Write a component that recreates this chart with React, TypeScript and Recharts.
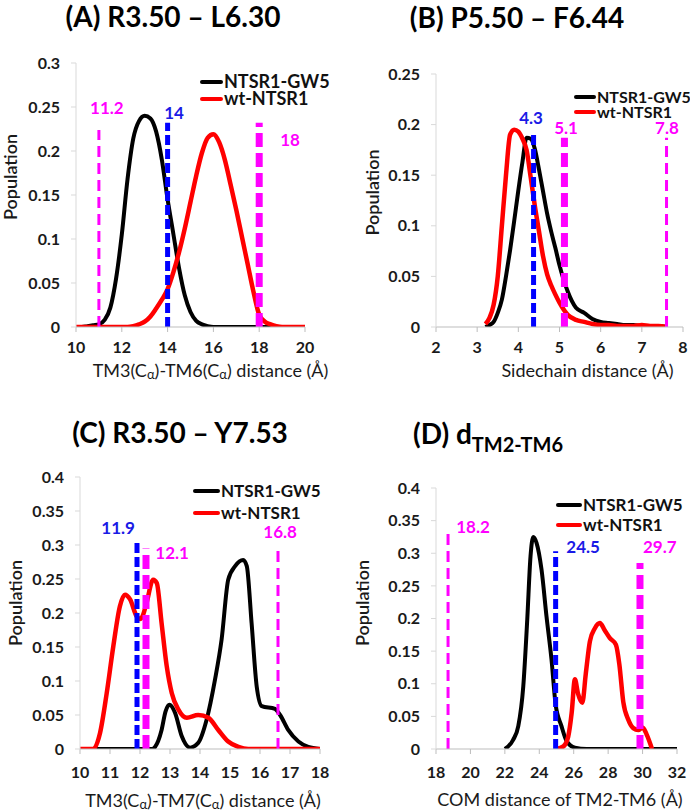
import React from "react";
import { LineChart, Line, XAxis, YAxis, ReferenceLine, ReferenceDot, Legend } from "recharts";

const FONT = "Lato, 'Open Sans', sans-serif";
const BLACK = "#000000";
const RED = "#ff0000";
const MAGENTA = "#ff00ff";
const BLUE = "#0000ff";

// ---------- (A) R3.50 - L6.30 ----------
const aXTicks = [10, 12, 14, 16, 18, 20];
const aYTicks = [0, 0.05, 0.1, 0.15, 0.2, 0.25, 0.3];
const aDist = [
  10, 10.25, 10.5, 10.75, 11, 11.25, 11.5, 11.75, 12, 12.25, 12.5, 12.75, 13, 13.25, 13.5, 13.75, 14,
  14.25, 14.5, 14.75, 15, 15.25, 15.5, 15.75, 16, 16.25, 16.5, 16.75, 17, 17.25, 17.5, 17.75, 18,
  18.25, 18.5, 18.75, 19, 19.25, 19.5, 19.75, 20,
];
const aGw5 = [
  0, 0, 0.001, 0.002, 0.003, 0.008, 0.022, 0.055, 0.105, 0.168, 0.214, 0.234, 0.24, 0.237, 0.222, 0.19,
  0.145, 0.106, 0.067, 0.036, 0.017, 0.007, 0.003, 0.001, 0, 0, 0, 0, 0, 0, 0, 0, 0, 0, 0, 0, 0, 0, 0, 0, 0,
];
const aWt = [
  0, 0, 0, 0, 0, 0, 0, 0, 0, 0, 0.001, 0.003, 0.006, 0.012, 0.021, 0.031, 0.043, 0.062, 0.085, 0.112,
  0.142, 0.172, 0.198, 0.215, 0.219, 0.21, 0.19, 0.162, 0.133, 0.102, 0.071, 0.04, 0.014, 0.006, 0.003,
  0.001, 0, 0, 0, 0, 0,
];
const aMarkX = [11, 14, 18];
const aMarkTop = [0.224, 0.232, 0.232];
const aMarkText = ["11.2", "14", "18"];
const aMarkAt = [[11.35, 0.249], [14.28, 0.243], [19.35, 0.212]];

// ---------- (B) P5.50 - F6.44 ----------
const bXTicks = [2, 3, 4, 5, 6, 7, 8];
const bYTicks = [0, 0.05, 0.1, 0.15, 0.2, 0.25];
const bDist = [
  3.2, 3.3, 3.4, 3.5, 3.6, 3.7, 3.8, 3.9, 4.0, 4.1, 4.2, 4.3, 4.4, 4.5, 4.6, 4.7, 4.8, 4.9, 5.0, 5.2, 5.4,
  5.6, 5.8, 6.0, 6.2, 6.4, 6.6, 6.8, 7.0, 7.2, 7.4, 7.6,
];
const bGw5 = [
  0, 0.002, 0.005, 0.014, 0.027, 0.05, 0.076, 0.105, 0.135, 0.163, 0.187, 0.186, 0.176, 0.156, 0.134,
  0.112, 0.094, 0.078, 0.061, 0.035, 0.019, 0.014, 0.008, 0.005, 0.004, 0.003, 0.002, 0.002, 0.001,
  0.001, 0.001, 0,
];
const bWt = [
  0.003, 0.009, 0.022, 0.05, 0.1, 0.15, 0.19, 0.195, 0.193, 0.186, 0.175, 0.148, 0.12, 0.095, 0.07, 0.052,
  0.041, 0.032, 0.024, 0.012, 0.007, 0.005, 0.003, 0.002, 0.002, 0.001, 0.001, 0.001, 0.002, 0.001,
  0.001, 0,
];
const bMarkX = [4.37, 5.12, 7.6];
const bMarkTop = [0.193, 0.187, 0.187];
const bMarkText = ["4.3", "5.1", "7.8"];
const bMarkAt = [[4.31, 0.2065], [5.16, 0.197], [7.61, 0.197]];

// ---------- (C) R3.50 - Y7.53 ----------
const cXTicks = [10, 11, 12, 13, 14, 15, 16, 17, 18];
const cYTicks = [0, 0.05, 0.1, 0.15, 0.2, 0.25, 0.3, 0.35, 0.4];
const cGw5X = [
  10, 12.4, 12.5, 12.72, 12.85, 12.98, 13.17, 13.39, 13.67, 13.94, 14.22, 14.5, 14.72, 14.94, 15.17,
  15.44, 15.56, 15.72, 15.89, 16.06, 16.5, 16.67, 16.94, 17.28, 17.61, 18,
];
const cGw5Y = [
  0, 0, 0.003, 0.028, 0.055, 0.065, 0.053, 0.019, 0.002, 0.009, 0.043, 0.102, 0.161, 0.249, 0.269,
  0.278, 0.269, 0.185, 0.092, 0.063, 0.059, 0.05, 0.028, 0.011, 0.003, 0,
];
const cWtX = [
  10, 10.44, 10.67, 10.89, 11.11, 11.33, 11.5, 11.67, 11.89, 12.0, 12.1, 12.22, 12.44, 12.56, 12.72,
  12.89, 13.06, 13.28, 13.56, 13.94, 14.28, 14.61, 14.94, 15.28, 15.61, 18,
];
const cWtY = [
  0, 0, 0.024, 0.082, 0.151, 0.21, 0.227, 0.22, 0.195, 0.191, 0.197, 0.215, 0.249, 0.244, 0.185, 0.122,
  0.082, 0.058, 0.046, 0.05, 0.046, 0.028, 0.011, 0.003, 0, 0,
];
const cMarkX = [11.9, 12.2, 16.6];
const cMarkTop = [0.304, 0.295, 0.297];
const cMarkText = ["11.9", "12.1", "16.8"];
const cMarkAt = [[11.27, 0.325], [13.07, 0.288], [16.67, 0.319]];

// ---------- (D) d TM2-TM6 ----------
const dXTicks = [18, 20, 22, 24, 26, 28, 30, 32];
const dYTicks = [0, 0.05, 0.1, 0.15, 0.2, 0.25, 0.3, 0.35, 0.4];
const dGw5X = [22, 22.48, 22.78, 23.07, 23.3, 23.49, 23.65, 23.84, 24.13, 24.42, 24.71, 24.95, 25.29, 25.59, 26.07, 26.75, 32];
const dGw5Y = [0, 0.014, 0.035, 0.096, 0.198, 0.295, 0.325, 0.316, 0.275, 0.203, 0.137, 0.068, 0.035, 0.012, 0.002, 0, 0];
const dWtX = [
  25, 25.4, 25.68, 25.88, 26.07, 26.25, 26.5, 26.7, 26.94, 27.23, 27.52, 27.8, 28.1, 28.45, 28.65, 28.88,
  29.17, 29.46, 29.75, 30, 30.24, 30.55,
];
const dWtY = [
  0, 0.004, 0.019, 0.055, 0.107, 0.085, 0.071, 0.115, 0.165, 0.185, 0.193, 0.182, 0.17, 0.16, 0.13, 0.072,
  0.045, 0.032, 0.029, 0.033, 0.022, 0,
];
const dMarkX = [18.7, 24.95, 29.85];
const dMarkTop = [0.333, 0.303, 0.285];
const dMarkText = ["18.2", "24.5", "29.7"];
const dMarkAt = [[20.15, 0.34], [26.55, 0.31], [31.0, 0.31]];

const seriesNames = ["NTSR1-GW5", "wt-NTSR1"];

const markStyles: Record<string, { color: string; width: number; dash: string; text: string }> = {
  thin: { color: MAGENTA, width: 3, dash: "11 6", text: MAGENTA },
  thick: { color: MAGENTA, width: 7, dash: "14 6", text: MAGENTA },
  blue: { color: BLUE, width: 5, dash: "10 4", text: "#1a1ae6" },
};

const toPoints = (xs: number[], ys: number[]) => xs.map((x, i) => ({ x, y: ys[i] }));

const renderParts = (parts: string[]) =>
  parts.map((p, i) => {
    const sub = p.startsWith("_");
    const prevSub = i > 0 && parts[i - 1].startsWith("_");
    return (
      <tspan key={i} dy={sub ? 4 : prevSub ? -4 : 0} fontSize={sub ? 13 : undefined}>
        {sub ? p.slice(1) : p}
      </tspan>
    );
  });

const fmt = (v: number) => String(Number(v.toFixed(2)));

function LegendBox({ fontSize, row, swatch }: { fontSize: number; row: number; swatch: number }) {
  return (
    <div style={{ fontFamily: FONT, fontWeight: 700, fontSize, lineHeight: `${row}px`, color: "#111" }}>
      {seriesNames.map((n, i) => (
        <div key={n} style={{ display: "flex", alignItems: "center", height: row, whiteSpace: "nowrap" }}>
          <div style={{ width: swatch, height: 4, background: i === 0 ? BLACK : RED, borderRadius: 2 }} />
          <span style={{ marginLeft: 1, lineHeight: `${row - 2}px` }}>{n}</span>
        </div>
      ))}
    </div>
  );
}

type PanelCfg = {
  left: number;
  top: number;
  width: number;
  height: number;
  margin: { top: number; right: number; left: number; bottom: number };
  tickGap: number;
  xDomain: [number, number];
  xTicks: number[];
  yDomain: [number, number];
  yTicks: number[];
  gw5: { x: number; y: number }[];
  wt: { x: number; y: number }[];
  markX: number[];
  markTop: number[];
  markText: string[];
  markAt: number[][];
  markKind: string[];
  xTitle: string[];
  xTitleDx: number;
  xTitleDy: number;
  yTitleDx: number;
  yTitleDy: number;
  legend: { left: number; top: number; row: number; swatch: number; fontSize: number };
  title: React.ReactNode;
  titleX: number;
  titleY: number;
  titleAlign: "center" | "left";
};

function Panel({ cfg }: { cfg: PanelCfg }) {
  const tick = { fill: "#1a1a1a", fontSize: 16, fontWeight: 700, fontFamily: FONT };
  return (
    <div style={{ position: "absolute", left: cfg.left, top: cfg.top, width: cfg.width, height: cfg.height }}>
      <div
        style={{
          position: "absolute",
          left: cfg.titleX,
          top: cfg.titleY,
          transform: cfg.titleAlign === "center" ? "translate(-50%, -50%)" : "translate(0, -50%)",
          fontFamily: FONT,
          fontWeight: 700,
          fontSize: 28,
          whiteSpace: "nowrap",
          color: "#000",
        }}
      >
        {cfg.title}
      </div>
      <LineChart width={cfg.width} height={cfg.height} margin={cfg.margin}>
        <XAxis
          type="number"
          dataKey="x"
          domain={cfg.xDomain}
          ticks={cfg.xTicks}
          height={30}
          tick={tick}
          tickSize={5}
          tickMargin={cfg.tickGap}
          stroke="#bdbdbd"
          allowDataOverflow
          label={(p: any) => {
            const vb = p.viewBox || { x: 0, y: 0, width: 0 };
            return (
              <text
                x={vb.x + vb.width / 2 + cfg.xTitleDx}
                y={vb.y + cfg.xTitleDy}
                textAnchor="middle"
                dominantBaseline="central"
                fontFamily={FONT}
                fontSize={18}
                fill="#1a1a1a"
              >
                {renderParts(cfg.xTitle)}
              </text>
            );
          }}
        />
        <YAxis
          type="number"
          domain={cfg.yDomain}
          ticks={cfg.yTicks}
          width={56}
          tick={tick}
          tickSize={5}
          tickMargin={11}
          tickFormatter={fmt}
          stroke="#d9d9d9"
          allowDataOverflow
          label={(p: any) => {
            const vb = p.viewBox || { x: 0, y: 0, height: 0 };
            const cx = vb.x + cfg.yTitleDx;
            const cy = vb.y + vb.height / 2 + cfg.yTitleDy;
            return (
              <text
                x={cx}
                y={cy}
                transform={`rotate(-90 ${cx} ${cy})`}
                textAnchor="middle"
                dominantBaseline="central"
                fontFamily={FONT}
                fontSize={18}
                fontWeight={600}
                fill="#1a1a1a"
              >
                Population
              </text>
            );
          }}
        />
        <Legend
          layout="vertical"
          align="center"
          verticalAlign="middle"
          wrapperStyle={{ left: cfg.legend.left, top: cfg.legend.top, width: "auto", height: "auto" }}
          content={() => <LegendBox fontSize={cfg.legend.fontSize} row={cfg.legend.row} swatch={cfg.legend.swatch} />}
        />
        <Line
          data={cfg.gw5}
          dataKey="y"
          name={seriesNames[0]}
          type="monotone"
          stroke={BLACK}
          strokeWidth={4}
          dot={false}
          activeDot={false}
          isAnimationActive={false}
        />
        <Line
          data={cfg.wt}
          dataKey="y"
          name={seriesNames[1]}
          type="monotone"
          stroke={RED}
          strokeWidth={4.5}
          dot={false}
          activeDot={false}
          isAnimationActive={false}
        />
        {cfg.markX.map((x, i) => {
          const s = markStyles[cfg.markKind[i]];
          return (
            <ReferenceLine
              key={`l${i}`}
              segment={[
                { x, y: 0 },
                { x, y: cfg.markTop[i] },
              ]}
              stroke={s.color}
              strokeWidth={s.width}
              strokeDasharray={s.dash}
            />
          );
        })}
        {cfg.markX.map((_, i) => {
          const s = markStyles[cfg.markKind[i]];
          return (
            <ReferenceDot
              key={`t${i}`}
              x={cfg.markAt[i][0]}
              y={cfg.markAt[i][1]}
              r={1}
              fill="none"
              stroke="none"
              label={{
                value: cfg.markText[i],
                position: "center",
                fill: s.text,
                fontSize: 17,
                fontWeight: 700,
                fontFamily: FONT,
              }}
            />
          );
        })}
      </LineChart>
    </div>
  );
}

const panels: PanelCfg[] = [
  {
    left: 0,
    top: 0,
    width: 345,
    height: 390,
    margin: { top: 63, right: 40, left: 20, bottom: 33 },
    tickGap: 10,
    xDomain: [10, 20],
    xTicks: aXTicks,
    yDomain: [0, 0.3],
    yTicks: aYTicks,
    gw5: toPoints(aDist, aGw5),
    wt: toPoints(aDist, aWt),
    markX: aMarkX,
    markTop: aMarkTop,
    markText: aMarkText,
    markAt: aMarkAt,
    markKind: ["thin", "blue", "thick"],
    xTitle: ["TM3(C", "_α", ")-TM6(C", "_α", ") distance (Å)"],
    xTitleDx: 20,
    xTitleDy: 43,
    yTitleDx: -10,
    yTitleDy: -18,
    legend: { left: 200, top: 73, row: 17, swatch: 23, fontSize: 18 },
    title: "(A) R3.50 – L6.30",
    titleX: 173,
    titleY: 16,
    titleAlign: "center",
  },
  {
    left: 345,
    top: 0,
    width: 345,
    height: 390,
    margin: { top: 74, right: 7, left: 35, bottom: 33 },
    tickGap: 10,
    xDomain: [2, 8],
    xTicks: bXTicks,
    yDomain: [0, 0.25],
    yTicks: bYTicks,
    gw5: toPoints(bDist, bGw5),
    wt: toPoints(bDist, bWt),
    markX: bMarkX,
    markTop: bMarkTop,
    markText: bMarkText,
    markAt: bMarkAt,
    markKind: ["blue", "thick", "thin"],
    xTitle: ["Sidechain distance (Å)"],
    xTitleDx: 28,
    xTitleDy: 43,
    yTitleDx: -8,
    yTitleDy: -8,
    legend: { left: 229, top: 89, row: 15, swatch: 22, fontSize: 16 },
    title: "(B) P5.50 – F6.44",
    titleX: 172,
    titleY: 17,
    titleAlign: "center",
  },
  {
    left: 0,
    top: 390,
    width: 345,
    height: 421,
    margin: { top: 87, right: 25, left: 24, bottom: 32 },
    tickGap: 13,
    xDomain: [10, 18],
    xTicks: cXTicks,
    yDomain: [0, 0.4],
    yTicks: cYTicks,
    gw5: toPoints(cGw5X, cGw5Y),
    wt: toPoints(cWtX, cWtY),
    markX: cMarkX,
    markTop: cMarkTop,
    markText: cMarkText,
    markAt: cMarkAt,
    markKind: ["blue", "thick", "thin"],
    xTitle: ["TM3(C", "_α", ")-TM7(C", "_α", ") distance (Å)"],
    xTitleDx: 3,
    xTitleDy: 51,
    yTitleDx: -9,
    yTitleDy: -10,
    legend: { left: 193, top: 90, row: 22, swatch: 27, fontSize: 17 },
    title: "(C) R3.50 – Y7.53",
    titleX: 180,
    titleY: 42,
    titleAlign: "center",
  },
  {
    left: 345,
    top: 390,
    width: 345,
    height: 421,
    margin: { top: 98, right: 13, left: 35, bottom: 32 },
    tickGap: 13,
    xDomain: [18, 32],
    xTicks: dXTicks,
    yDomain: [0, 0.4],
    yTicks: dYTicks,
    gw5: toPoints(dGw5X, dGw5Y),
    wt: toPoints(dWtX, dWtY),
    markX: dMarkX,
    markTop: dMarkTop,
    markText: dMarkText,
    markAt: dMarkAt,
    markKind: ["thin", "blue", "thick"],
    xTitle: ["COM distance of TM2-TM6 (Å)"],
    xTitleDx: 3.5,
    xTitleDy: 50,
    yTitleDx: -18,
    yTitleDy: -15.5,
    legend: { left: 211, top: 105, row: 20, swatch: 26, fontSize: 17 },
    title: (
      <span>
        (D) d<span style={{ fontSize: 20, position: "relative", top: 8 }}>TM2-TM6</span>
      </span>
    ),
    titleX: 68,
    titleY: 43,
    titleAlign: "left",
  },
];

export default function App() {
  return (
    <div style={{ position: "absolute", left: 0, top: 0, width: 690, height: 811, background: "#fff", overflow: "hidden" }}>
      {panels.map((p, i) => (
        <Panel key={i} cfg={p} />
      ))}
    </div>
  );
}
